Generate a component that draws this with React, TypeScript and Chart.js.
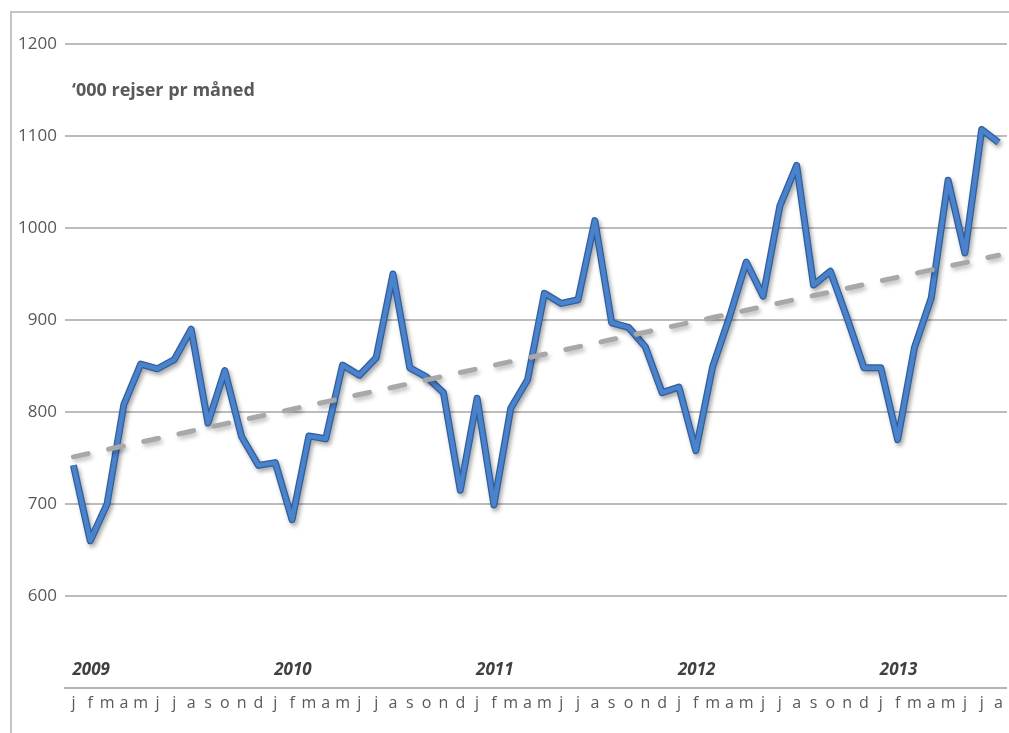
import { useEffect, useRef } from 'react';
import { Chart, registerables } from 'chart.js';

Chart.register(...registerables);

// Monthly passenger journeys, thousands ('000 rejser pr måned)
const monthInitials = ['j', 'f', 'm', 'a', 'm', 'j', 'j', 'a', 's', 'o', 'n', 'd'];
const years = ['2009', '2010', '2011', '2012', '2013'];

const trips2009 = [742, 660, 700, 808, 852, 847, 857, 890, 788, 845, 773, 742];
const trips2010 = [745, 683, 774, 771, 851, 840, 859, 950, 848, 838, 821, 715];
const trips2011 = [815, 699, 804, 835, 929, 918, 922, 1008, 897, 892, 871, 821];
const trips2012 = [827, 758, 849, 903, 963, 926, 1024, 1068, 938, 953, 902, 848];
const trips2013 = [848, 770, 870, 924, 1052, 973, 1107, 1093];

const yMin = 500;
const yMax = 1200;
const yStep = 100;

const titleText = '\u2018000 rejser pr m\u00e5ned';

const tripsByYear = [trips2009, trips2010, trips2011, trips2012, trips2013];
const trips = tripsByYear.flat();
const monthLabels = tripsByYear.flatMap((yr) => yr.map((_, i) => monthInitials[i]));
const yearStartIndex = tripsByYear.map((_, y) =>
  tripsByYear.slice(0, y).reduce((s, yr) => s + yr.length, 0)
);

// Least-squares linear trend over the monthly series
function linearTrend(values: number[]): number[] {
  const n = values.length;
  const mx = (n - 1) / 2;
  const my = values.reduce((s, v) => s + v, 0) / n;
  let num = 0;
  let den = 0;
  values.forEach((v, i) => {
    num += (i - mx) * (v - my);
    den += (i - mx) * (i - mx);
  });
  const slope = num / den;
  const intercept = my - slope * mx;
  return values.map((_, i) => intercept + slope * i);
}

const trend = linearTrend(trips);

const FONT = '"Open Sans", "Noto Sans", sans-serif';

const shadowPlugin = {
  id: 'lineShadow',
  beforeDatasetDraw(chart: any, args: any) {
    const ds = chart.data.datasets[args.index] as any;
    if (!ds.shadow) return;
    const ctx = chart.ctx;
    ctx.save();
    ctx.shadowColor = ds.shadow;
    ctx.shadowBlur = 4;
    ctx.shadowOffsetX = 2;
    ctx.shadowOffsetY = 3;
  },
  afterDatasetDraw(chart: any, args: any) {
    const ds = chart.data.datasets[args.index] as any;
    if (!ds.shadow) return;
    chart.ctx.restore();
  },
};

const decorPlugin = {
  id: 'decor',
  beforeDraw(chart: any) {
    const ctx = chart.ctx;
    ctx.save();
    ctx.strokeStyle = '#c4c4c4';
    ctx.lineWidth = 2;
    ctx.beginPath();
    ctx.moveTo(11, chart.height);
    ctx.lineTo(11, 12);
    ctx.lineTo(chart.width, 12);
    ctx.stroke();
    ctx.restore();
  },
  afterDraw(chart: any) {
    const ctx = chart.ctx;
    const area = chart.chartArea;
    const xs = chart.scales.x;
    ctx.save();
    ctx.fillStyle = '#595959';
    ctx.font = `bold 18px ${FONT}`;
    ctx.textAlign = 'left';
    ctx.textBaseline = 'middle';
    ctx.fillText(titleText, area.left + 7, area.top + 47);

    ctx.fillStyle = '#404040';
    ctx.font = `italic bold 17px ${FONT}`;
    years.forEach((yr, i) => {
      const x = xs.getPixelForValue(yearStartIndex[i]);
      ctx.fillText(yr, x - 1, area.bottom - 18);
    });
    ctx.restore();
  },
};

export default function App() {
  const canvasRef = useRef<HTMLCanvasElement | null>(null);

  useEffect(() => {
    document.body.style.margin = '0';
    const canvas = canvasRef.current;
    if (!canvas) return;
    const chart = new Chart(canvas, {
      type: 'line',
      data: {
        labels: monthLabels,
        datasets: [
          {
            label: 'Trend',
            data: trend,
            borderColor: '#a8a8a8',
            borderWidth: 5,
            borderDash: [15, 21],
            borderCapStyle: 'round',
            pointRadius: 0,
            tension: 0,
            shadow: 'rgba(0,0,0,0.25)',
          } as any,
          {
            label: 'Rejser',
            data: trips,
            borderColor: '#4b82cc',
            borderWidth: 4.5,
            borderJoinStyle: 'round',
            pointRadius: 0,
            tension: 0,
          },
          {
            label: 'Rejser kant',
            data: trips,
            borderColor: '#2f5e9c',
            borderWidth: 7,
            borderJoinStyle: 'round',
            pointRadius: 0,
            tension: 0,
            shadow: 'rgba(0,0,0,0.35)',
          } as any,
        ],
      },
      options: {
        animation: false,
        responsive: true,
        maintainAspectRatio: false,
        layout: { padding: { top: 44, right: 1, left: 0, bottom: 0 } },
        plugins: {
          legend: { display: false },
          tooltip: { enabled: false },
        },
        scales: {
          x: {
            type: 'category',
            offset: true,
            grid: { display: false, drawTicks: false },
            border: { display: true, color: '#b4b4b4', width: 2 },
            ticks: {
              autoSkip: false,
              maxRotation: 0,
              padding: 6,
              color: '#595959',
              font: { family: FONT, size: 16 },
            },
            afterFit(scale: any) {
              scale.height = 45;
            },
          },
          y: {
            min: yMin,
            max: yMax,
            ticks: {
              stepSize: yStep,
              padding: 8,
              color: '#595959',
              font: { family: FONT, size: 17 },
              callback: (v: any) => (Number(v) === yMin ? '' : String(v)),
            },
            grid: {
              color: '#bcbcbc',
              lineWidth: 2,
              drawTicks: false,
            },
            border: { display: false },
            afterFit(scale: any) {
              scale.width = 65;
            },
          },
        },
      },
      plugins: [shadowPlugin, decorPlugin],
    });
    return () => chart.destroy();
  }, []);

  return (
    <div style={{ position: 'relative', width: 1009, height: 733, background: '#fff' }}>
      <canvas ref={canvasRef} />
    </div>
  );
}
